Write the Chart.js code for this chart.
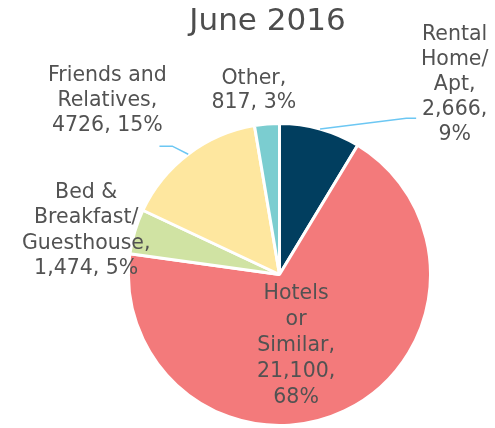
<!DOCTYPE html>
<html>
<head>
<meta charset="utf-8">
<script src="https://cdn.jsdelivr.net/npm/chart.js@4/dist/chart.umd.min.js"></script>
<style>
html,body{margin:0;padding:0;background:#fff;}
#wrap{width:495px;height:428px;position:relative;}
</style>
</head>
<body>
<div id="wrap"><canvas id="c" width="495" height="428"></canvas></div>
<script>
// ---- data ----
const chartTitle = 'June 2016';
const categories = ['Rental Home/Apt', 'Hotels or Similar', 'Bed & Breakfast/Guesthouse', 'Friends and Relatives', 'Other'];
const visitors = [2666, 21100, 1474, 4726, 817];
const percents = [9, 68, 5, 15, 3];
const valueTexts = ['2,666', '21,100', '1,474', '4726', '817'];
const labelLines = [
  ['Rental', 'Home/', 'Apt,', valueTexts[0] + ',', percents[0] + '%'],
  ['Hotels', 'or', 'Similar,', valueTexts[1] + ',', percents[1] + '%'],
  ['Bed &', 'Breakfast/', 'Guesthouse,', valueTexts[2] + ', ' + percents[2] + '%'],
  ['Friends and', 'Relatives,', valueTexts[3] + ', ' + percents[3] + '%'],
  ['Other,', valueTexts[4] + ', ' + percents[4] + '%']
];

// ---- style ----
const colors = ['#013e5f', '#f37a7b', '#d0e3a3', '#fee79f', '#7bcdd0'];
const textColor = '#525252';
const leaderColor = '#6cc7f3';
const FONT = '"DejaVu Sans", sans-serif';
// label centre offsets in units of radius, relative to pie centre
const labelPos = [[1.16, -1.26], [0.11, 0.47], [-1.28, -0.29], [-1.14, -1.15], [-0.17, -1.22]];
const lineHeights = [25, 26, 25.5, 25, 24];
// leader lines (elbow, end) in units of radius, null = none
const leaders = [[[0.84, -1.035], [0.905, -1.035]], null, null, [[-0.71, -0.85], [-0.795, -0.85]], null];

const labelPlugin = {
  id: 'pieLabels',
  afterDraw(chart) {
    const ctx = chart.ctx;
    const meta = chart.getDatasetMeta(0);
    const cx = meta.data[0].x, cy = meta.data[0].y, r = meta.data[0].outerRadius;
    ctx.save();
    // title
    ctx.fillStyle = '#4d4d4d';
    ctx.font = '31px ' + FONT;
    ctx.textAlign = 'center';
    ctx.textBaseline = 'middle';
    ctx.fillText(chartTitle, cx - 12, 22);
    // leaders
    meta.data.forEach((arc, i) => {
      const ld = leaders[i];
      if (!ld) return;
      const mid = (arc.startAngle + arc.endAngle) / 2;
      ctx.strokeStyle = leaderColor;
      ctx.lineWidth = 1.5;
      ctx.beginPath();
      ctx.moveTo(cx + r * Math.cos(mid), cy + r * Math.sin(mid));
      ctx.lineTo(cx + r * ld[0][0], cy + r * ld[0][1]);
      ctx.lineTo(cx + r * ld[1][0], cy + r * ld[1][1]);
      ctx.stroke();
    });
    // labels
    ctx.fillStyle = textColor;
    ctx.font = '20.5px ' + FONT;
    labelLines.forEach((lines, i) => {
      const x = cx + r * labelPos[i][0];
      const y = cy + r * labelPos[i][1];
      const lh = lineHeights[i];
      const y0 = y - lh * (lines.length - 1) / 2;
      lines.forEach((t, j) => ctx.fillText(t, x, y0 + j * lh));
    });
    ctx.restore();
  }
};

new Chart(document.getElementById('c'), {
  type: 'pie',
  data: {
    labels: categories,
    datasets: [{
      data: visitors,
      backgroundColor: colors,
      borderColor: '#ffffff',
      borderWidth: 3
    }]
  },
  options: {
    responsive: false,
    animation: false,
    layout: { padding: { top: 122, bottom: 1, left: 127, right: 63 } },
    plugins: { legend: { display: false }, tooltip: { enabled: false }, title: { display: false } }
  },
  plugins: [labelPlugin]
});
</script>
</body>
</html>
